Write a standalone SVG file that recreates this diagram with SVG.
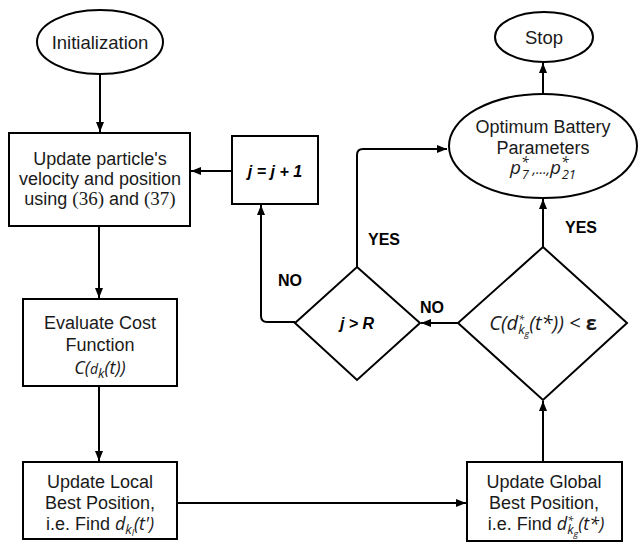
<svg xmlns="http://www.w3.org/2000/svg" width="641" height="545" viewBox="0 0 641 545">
<defs>
<marker id="ah" markerWidth="10" markerHeight="8" refX="10" refY="4" orient="auto" markerUnits="userSpaceOnUse">
<path d="M0,0 L10,4 L0,8 Z" fill="#000"/>
</marker>
<style>
.s{fill:#fff;stroke:#000;stroke-width:2}
.c{fill:none;stroke:#000;stroke-width:2;marker-end:url(#ah)}
.t{font-family:"Liberation Sans",Arial,sans-serif;font-size:18px;text-anchor:middle;fill:#1a1a1a}
.m{font-family:"Open Sans","Noto Sans",sans-serif;font-style:italic;fill:#1a1a1a}
.b{font-family:"Liberation Sans",Arial,sans-serif;font-size:16px;font-weight:bold;text-anchor:middle;fill:#000}
.bi{font-family:"Liberation Sans",Arial,sans-serif;font-size:16px;font-weight:bold;font-style:italic;text-anchor:middle;fill:#000}
.tn{font-family:"Liberation Serif","Times New Roman",serif;font-size:19px}
</style>
</defs>
<rect width="641" height="545" fill="#fff"/>
<g id="connectors">
<path class="c" d="M100,75 L100,132"/>
<path class="c" d="M232,171 L191,171"/>
<path class="c" d="M99,226 L99,298"/>
<path class="c" d="M99,386 L99,461"/>
<path class="c" d="M177,503 L466,503"/>
<path class="c" d="M543,462 L543,401"/>
<path class="c" d="M458,323 L421,323"/>
<path class="c" d="M295,322 L267,322 Q261,322 261,316 L261,205"/>
<path class="c" d="M357,267 L357,155 Q357,149 363,149 L447,149"/>
<path class="c" d="M543,247 L543,199"/>
<path class="c" d="M543,94 L543,63"/>
</g>
<g id="labels">
<text class="b" x="384" y="245">YES</text>
<text class="b" x="581" y="233">YES</text>
<text class="b" x="290" y="286">NO</text>
<text class="b" x="432" y="313">NO</text>
</g>
<g id="init">
<ellipse class="s" cx="100" cy="42" rx="63" ry="32"/>
<text class="t" x="100" y="49" style="font-size:18.5px">Initialization</text>
</g>
<g id="update-particle">
<rect class="s" x="9" y="133" width="181" height="93"/>
<text class="t" x="100" y="165">Update particle's</text>
<text class="t" x="100" y="185">velocity and position</text>
<text class="t" x="100" y="205">using <tspan class="tn">(36)</tspan> and <tspan class="tn">(37)</tspan></text>
</g>
<g id="increment">
<rect class="s" x="232" y="136" width="86" height="68"/>
<text class="bi" x="275" y="177">j = j + 1</text>
</g>
<g id="evaluate">
<rect class="s" x="23" y="299" width="154" height="87"/>
<text class="t" x="100" y="329">Evaluate Cost</text>
<text class="t" x="100" y="351">Function</text>
<text class="m" x="100" y="374" text-anchor="middle" style="font-size:18px">C(<tspan style="font-size:14px">d</tspan><tspan style="font-size:13px" dy="4">k</tspan><tspan dy="-4">(t))</tspan></text>
</g>
<g id="local">
<rect class="s" x="23" y="462" width="154" height="77"/>
<text class="t" x="100" y="488">Update Local</text>
<text class="t" x="100" y="509">Best Position,</text>
<text class="t" x="100" y="530">i.e. Find <tspan class="m" style="font-size:18px">d</tspan><tspan class="m" style="font-size:13px" dy="4">k</tspan><tspan class="m" style="font-size:9px" dy="2">l</tspan><tspan class="m" style="font-size:18px" dy="-6">(t')</tspan></text>
</g>
<g id="global">
<rect class="s" x="467" y="462" width="155" height="79"/>
<text class="t" x="544" y="488">Update Global</text>
<text class="t" x="544" y="509">Best Position,</text>
<text class="t" x="546" y="530">i.e. Find <tspan class="m" style="font-size:18px">d</tspan><tspan class="m" style="font-size:11px" dy="-6">*</tspan><tspan class="m" style="font-size:13px" dx="-6" dy="10">k</tspan><tspan class="m" style="font-size:9px" dy="3">g</tspan><tspan class="m" style="font-size:18px" dy="-7">(t*)</tspan></text>
</g>
<g id="check-j">
<polygon class="s" points="357,267 420,323 357,380 295,323"/>
<text class="bi" x="357" y="329">j &gt; R</text>
</g>
<g id="check-cost">
<polygon class="s" points="543,247 627,323 543,400 458,323"/>
<text class="m" x="543" y="330" text-anchor="middle" style="font-size:20px">C(d<tspan style="font-size:11px" dy="-7">*</tspan><tspan style="font-size:13px" dx="-6" dy="11">k</tspan><tspan style="font-size:9px" dy="3">g</tspan><tspan dy="-7">(t*)) &lt; </tspan><tspan style="font-style:normal;font-weight:bold">ε</tspan></text>
</g>
<g id="optimum">
<ellipse class="s" cx="543" cy="146" rx="94" ry="52"/>
<text class="t" x="543" y="133">Optimum Battery</text>
<text class="t" x="543" y="154">Parameters</text>
<text class="m" x="543" y="174" text-anchor="middle" style="font-size:19px">p<tspan style="font-size:14px" dy="-7">*</tspan><tspan style="font-size:13px" dx="-7" dy="12">7</tspan><tspan style="font-size:14px" dy="-5"> ,...,</tspan><tspan>p</tspan><tspan style="font-size:14px" dy="-7">*</tspan><tspan style="font-size:13px" dx="-7" dy="12">21</tspan></text>
</g>
<g id="stop">
<ellipse class="s" cx="544" cy="37" rx="49" ry="25"/>
<text class="t" x="544" y="44" style="font-size:18.5px">Stop</text>
</g>
</svg>
